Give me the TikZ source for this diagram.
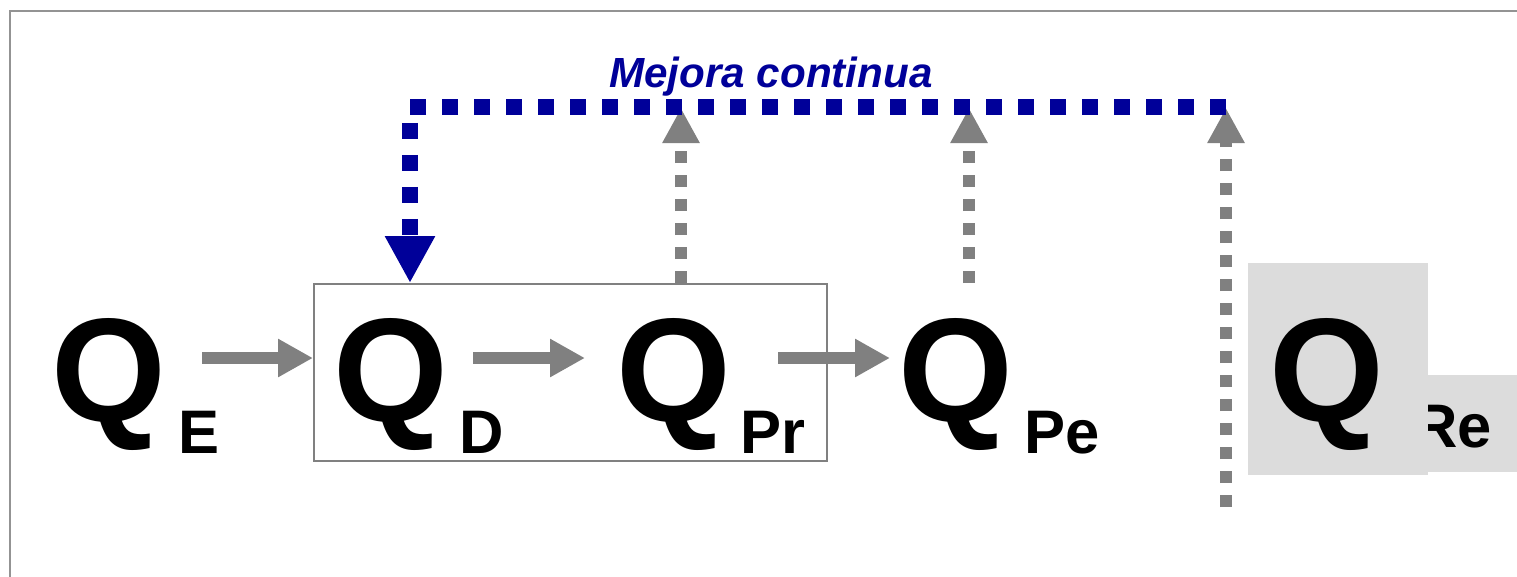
\documentclass[tikz,border=0pt]{standalone}
\usepackage{fontspec}
\setmainfont{Liberation Sans}
\usetikzlibrary{arrows.meta}
\definecolor{dblue}{RGB}{0,0,153}
\definecolor{agray}{RGB}{128,128,128}
\definecolor{lgray}{RGB}{220,220,220}
\tikzset{
  bigq/.style={anchor=base west,inner sep=0pt,font=\fontsize{84}{84}\selectfont\bfseries},
  subq/.style={anchor=base west,inner sep=0pt,font=\fontsize{35}{35}\selectfont\bfseries},
  flow/.style={draw=agray,line width=0.24cm,-{Triangle[length=0.7cm,width=0.72cm]}},
  upflow/.style={draw=agray,line width=0.24cm,dash pattern=on 0.24cm off 0.24cm,-{Triangle[length=0.7cm,width=0.7cm]}},
  loopflow/.style={draw=dblue,line width=0.32cm,dash pattern=on 0.32cm off 0.32cm,-{Triangle[length=0.94cm,width=0.94cm]}}
}
\begin{document}
\begin{tikzpicture}[x=0.02cm,y=-0.02cm]
\useasboundingbox (0,0) rectangle (1517,576);
% frame
\draw[agray!85!white,line width=0.04cm] (10,11) rectangle (1560,620);
% box around D and Pr
\node[draw=agray,line width=0.04cm,minimum width=10.26cm,minimum height=3.54cm,inner sep=0pt,anchor=north west] (box) at (313,283) {};
% Re boxes
\fill[lgray] (1428,375) rectangle (1530,472);
\node[subq] (sRe) at (1413,447) {Re};
\fill[lgray] (1248,263) rectangle (1428,475);
% Q letters
\node[bigq] (QE) at (51,421) {Q};
\node[subq] (sE) at (178,453) {E};
\node[bigq] (QD) at (333,421) {Q};
\node[subq] (sD) at (459,453) {D};
\node[bigq] (QPr) at (616,421) {Q};
\node[subq] (sPr) at (740,453) {Pr};
\node[bigq] (QPe) at (898,421) {Q};
\node[subq] (sPe) at (1024,453) {Pe};
\node[bigq] (QRe) at (1269,421) {Q};
% horizontal flows
\coordinate (a1) at (202,358); \coordinate (b1) at (313,358);
\coordinate (a2) at (473,358); \coordinate (b2) at (585,358);
\coordinate (a3) at (778,358); \coordinate (b3) at (890,358);
\draw[flow] (a1) -- (b1);
\draw[flow] (a2) -- (b2);
\draw[flow] (a3) -- (b3);
% upward dotted flows
\coordinate (u1) at (681,283); \coordinate (t1) at (681,108);
\coordinate (u2) at (969,283); \coordinate (t2) at (969,108);
\coordinate (u3) at (1226,507); \coordinate (t3) at (1226,108);
\draw[upflow] (u1) -- (t1);
\draw[upflow] (u2) -- (t2);
\draw[upflow] (u3) -- (t3);
% improvement loop
\coordinate (l0) at (1226,107);
\coordinate (l1) at (410,107);
\coordinate (l2) at (410,283);
\draw[loopflow] (l0) -- (l1) -- (l2);
\node[text=dblue,font=\fontsize{24}{24}\selectfont\bfseries\itshape,anchor=base] (lbl) at (771,87) {Mejora continua};
\end{tikzpicture}
\end{document}
